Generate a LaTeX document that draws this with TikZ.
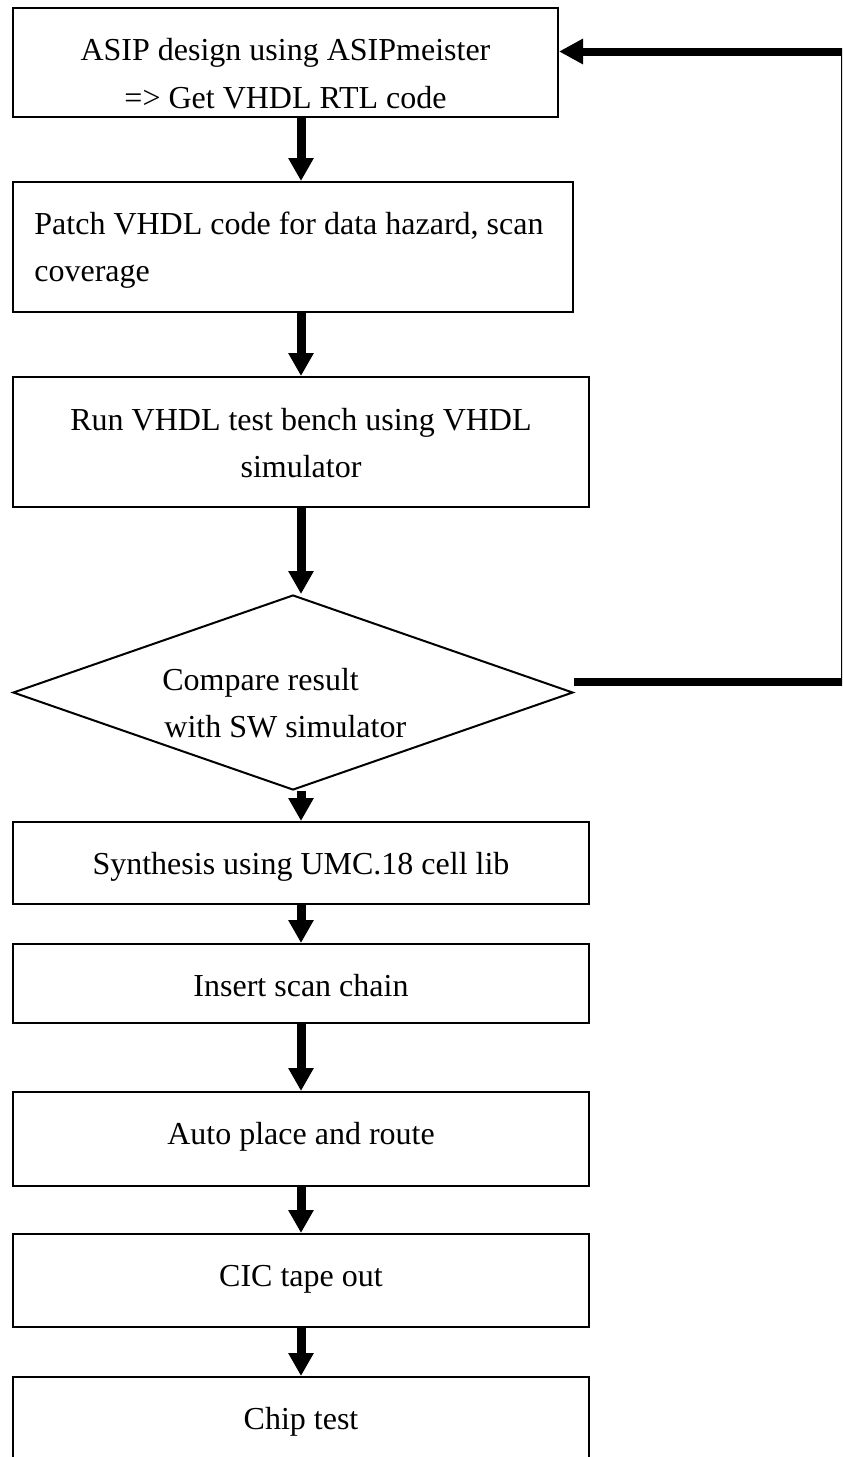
\documentclass[tikz,border=0pt]{standalone}
\usepackage{fontspec}
\setmainfont{Liberation Serif}
\usetikzlibrary{arrows.meta,shapes.geometric}
\begin{document}
\begin{tikzpicture}[x=0.5pt,y=-0.5pt,
  box/.style={draw, line width=1pt, inner sep=0pt, rectangle},
  dbox/.style={draw, line width=1pt, inner sep=0pt, diamond},
  txt/.style={inner sep=0pt, font=\fontsize{16pt}{24pt}\selectfont},
  arr/.style={line width=4.5pt, -{Triangle[width=12pt,length=11.5pt]}},
  fb/.style={line width=4pt, -{Triangle[width=12pt,length=12pt]}}]
\clip (0,0) rectangle (842,1457);
\coordinate (ax) at (301,0);
% boxes
\node[box, minimum width=272.5pt, minimum height=54.5pt] (b1) at (285.5,62.5) {};
\node[box, minimum width=280pt, minimum height=65pt] (b2) at (293,247) {};
\node[box, minimum width=288pt, minimum height=65pt] (b3) at (301,442) {};
\node[dbox, minimum width=280pt, minimum height=97.5pt] (dia) at (293,692.5) {};
\node[box, minimum width=288pt, minimum height=41pt] (b5) at (301,863) {};
\node[box, minimum width=288pt, minimum height=39.5pt] (b6) at (301,983.5) {};
\node[box, minimum width=288pt, minimum height=47pt] (b7) at (301,1139) {};
\node[box, minimum width=288pt, minimum height=46.5pt] (b8) at (301,1280.5) {};
\node[box, minimum width=288pt, minimum height=61.5pt] (b9) at (301,1438.5) {};
% texts
\node[txt, anchor=base] (t1a) at (285.5,60) {ASIP design using ASIPmeister};
\node[txt, anchor=base] (t1b) at (285.5,108) {=> Get VHDL RTL code};
\node[txt, anchor=base west] (t2a) at (34,234) {Patch VHDL code for data hazard, scan};
\node[txt, anchor=base west] (t2b) at (34,281) {coverage};
\node[txt, anchor=base] (t3a) at (301,430) {Run VHDL test bench using VHDL};
\node[txt, anchor=base] (t3b) at (301,477) {simulator};
\node[txt, anchor=base west] (tda) at (162,690) {Compare result};
\node[txt, anchor=base west] (tdb) at (164,737) {with SW simulator};
\node[txt, anchor=base] (t5) at (301,874) {Synthesis using UMC.18 cell lib};
\node[txt, anchor=base] (t6) at (301,996) {Insert scan chain};
\node[txt, anchor=base] (t7) at (301,1144) {Auto place and route};
\node[txt, anchor=base] (t8) at (301,1286) {CIC tape out};
\node[txt, anchor=base] (t9) at (301,1429) {Chip test};
% arrows
\draw[arr] (b1.south -| ax) -- (b2.north -| ax);
\draw[arr] (b2.south -| ax) -- (b3.north -| ax);
\draw[arr] (b3.south -| ax) -- (dia.north -| ax);
\draw[arr] (dia.south -| ax) -- (b5.north -| ax);
\draw[arr] (b5.south -| ax) -- (b6.north -| ax);
\draw[arr] (b6.south -| ax) -- (b7.north -| ax);
\draw[arr] (b7.south -| ax) -- (b8.north -| ax);
\draw[arr] (b8.south -| ax) -- (b9.north -| ax);
% feedback
\coordinate (fr1) at (845,682);
\coordinate (fr2) at (845,51.5);
\draw[fb] (dia.east |- fr1) -- (fr1) -- (fr2) -- (b1.east |- fr2);
\end{tikzpicture}
\end{document}
